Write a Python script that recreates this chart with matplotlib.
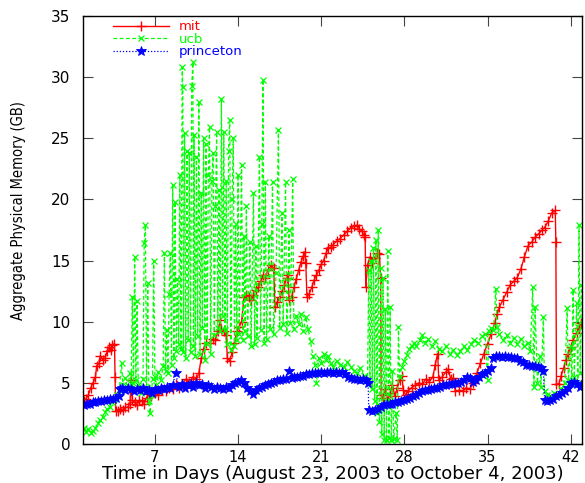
import matplotlib
matplotlib.use("Agg")
import matplotlib.pyplot as plt

# ---------------- data ----------------
mit_days = [1.0, 1.2, 1.4, 1.6, 1.8, 2.0, 2.1, 2.3, 2.4, 2.6, 2.8, 3.0, 3.1, 3.3, 3.4, 3.6, 3.65,
            3.7, 3.9, 4.1, 4.3, 4.5, 4.7, 4.9, 5.0, 5.1, 5.3, 5.5, 5.7, 5.9, 6.1, 6.3, 6.5, 6.7,
            7.0, 7.3, 7.6, 7.9, 8.2, 8.5, 8.8, 9.0, 9.3, 9.6, 9.9, 10.2, 10.5, 10.7, 10.9, 11.1,
            11.3, 11.6, 11.9, 12.1, 12.3, 12.5, 12.6, 12.8, 13.0, 13.1, 13.3, 13.5, 13.7, 13.9,
            14.1, 14.3, 14.5, 14.7, 14.9, 15.1, 15.3, 15.5, 15.7, 15.9, 16.1, 16.3, 16.5, 16.8,
            17.0, 17.1, 17.3, 17.5, 17.7, 17.9, 18.1, 18.2, 18.3, 18.5, 18.7, 18.9, 19.1, 19.3,
            19.5, 19.6, 19.7, 19.8, 20.0, 20.2, 20.4, 20.6, 20.8, 21.0, 21.2, 21.4, 21.6, 21.8,
            22.0, 22.3, 22.6, 22.9, 23.2, 23.5, 23.8, 24.0, 24.2, 24.4, 24.6, 24.7, 24.75, 24.9,
            25.1, 25.3, 25.5, 25.7, 25.9, 26.0, 26.05, 26.2, 26.4, 26.6, 26.8, 27.0, 27.2, 27.4,
            27.6, 27.8, 27.9, 28.1, 28.3, 28.6, 28.9, 29.2, 29.5, 29.8, 30.1, 30.4, 30.6, 30.8,
            30.9, 31.2, 31.5, 31.7, 31.9, 32.1, 32.3, 32.6, 32.9, 33.2, 33.5, 33.8, 34.1, 34.4,
            34.7, 35.0, 35.3, 35.6, 35.8, 36.0, 36.3, 36.6, 36.9, 37.2, 37.5, 37.8, 38.1, 38.4,
            38.7, 39.0, 39.3, 39.6, 39.8, 40.1, 40.4, 40.7, 40.75, 40.8, 41.0, 41.2, 41.4, 41.6,
            41.8, 42.0, 42.2, 42.5, 42.7, 42.9]
mit_gb = [3.5, 3.7, 4.0, 4.6, 5.0, 5.5, 6.4, 6.6, 7.2, 6.9, 7.0, 7.6, 7.9, 7.7, 8.1, 8.2, 5.5,
          2.7, 2.7, 2.9, 2.8, 3.0, 3.0, 3.3, 5.2, 3.6, 3.4, 3.2, 3.6, 3.5, 3.3, 3.8, 4.1, 3.9,
          4.2, 4.0, 4.4, 4.3, 4.6, 4.5, 4.9, 4.6, 4.9, 5.3, 5.0, 5.5, 5.3, 5.8, 7.0, 7.8,
          8.3, 8.3, 8.6, 8.5, 9.2, 10.1, 9.4, 9.2, 8.9, 7.0, 6.8, 7.5, 8.3, 9.2,
          9.6, 10.0, 12.0, 12.2, 12.0, 11.8, 12.2, 12.6, 12.8, 13.3, 13.8, 13.6, 14.2, 14.6,
          14.4, 11.2, 11.6, 12.0, 12.5, 13.0, 13.6, 13.8, 11.8, 12.0, 12.8, 13.5, 14.2, 14.9,
          15.4, 15.7, 14.8, 12.0, 12.3, 12.8, 13.4, 13.8, 14.2, 14.7, 15.0, 15.6, 16.0, 16.1,
          16.3, 16.6, 16.8, 17.1, 17.4, 17.7, 17.8, 17.9, 17.6, 17.4, 17.1, 16.9, 12.8, 14.6,
          15.3, 14.8, 15.2, 15.6, 15.5, 13.6, 4.0, 3.8, 4.5, 3.6, 4.2, 4.8, 3.9, 4.6,
          5.2, 5.6, 4.4, 4.0, 4.3, 4.6, 4.8, 5.0, 4.9, 5.3, 5.1, 5.5, 6.5, 7.4,
          5.2, 5.5, 5.9, 6.1, 5.3, 5.4, 4.3, 4.4, 4.3, 4.6, 4.5, 5.0, 5.8, 6.6,
          7.4, 8.2, 9.0, 9.9, 10.6, 11.2, 11.8, 12.4, 13.0, 13.3, 13.6, 14.3, 15.3, 16.2,
          16.5, 16.9, 17.2, 17.5, 17.7, 18.2, 18.9, 19.1, 16.5, 4.9, 4.9, 5.6, 6.2, 6.9,
          7.4, 7.9, 8.5, 9.1, 9.5, 9.9]

ucb_days = [1.0, 1.2, 1.4, 1.6, 1.8, 2.0, 2.2, 2.4, 2.6, 2.8, 3.0, 3.2, 3.4, 3.6, 3.8, 4.0,
            4.2, 4.3, 4.5, 4.7, 4.9, 5.0, 5.1, 5.2, 5.3, 5.4, 5.5, 5.6, 5.8, 6.0, 6.1, 6.2,
            6.3, 6.4, 6.5, 6.6, 6.7, 6.8, 6.9, 7.0, 7.1, 7.3, 7.5, 7.7, 7.8, 7.9, 8.0, 8.1,
            8.2, 8.3, 8.4, 8.5, 8.6, 8.7, 8.8, 8.9, 9.0, 9.1, 9.2, 9.3, 9.35, 9.4, 9.5, 9.6,
            9.7, 9.8, 9.9, 10.0, 10.1, 10.2, 10.25, 10.3, 10.4, 10.5, 10.6, 10.7, 10.8, 10.9,
            11.0, 11.1, 11.2, 11.3, 11.4, 11.5, 11.6, 11.7, 11.8, 11.9, 12.0, 12.1, 12.2, 12.3,
            12.4, 12.5, 12.6, 12.7, 12.8, 12.9, 13.0, 13.1, 13.2, 13.3, 13.4, 13.5, 13.6, 13.7,
            13.8, 13.9, 14.0, 14.1, 14.3, 14.4, 14.5, 14.6, 14.7, 14.8, 15.0, 15.1, 15.3, 15.4,
            15.5, 15.6, 15.8, 15.9, 16.0, 16.1, 16.2, 16.3, 16.4, 16.6, 16.7, 16.9, 17.0, 17.2,
            17.4, 17.5, 17.7, 17.8, 18.0, 18.1, 18.3, 18.4, 18.6, 18.7, 18.9, 19.1, 19.3, 19.5,
            19.7, 19.9, 20.1, 20.3, 20.5, 20.6, 20.8, 21.0, 21.2, 21.4, 21.6, 21.8, 22.0, 22.3,
            22.6, 22.9, 23.2, 23.5, 23.8, 24.0, 24.3, 24.6, 24.9, 25.0, 25.1, 25.2, 25.3, 25.4,
            25.5, 25.6, 25.7, 25.8, 25.9, 26.0, 26.1, 26.2, 26.3, 26.4, 26.5, 26.6, 26.7, 26.8,
            26.9, 27.0, 27.1, 27.3, 27.4, 27.5, 27.6, 27.8, 28.0, 28.2, 28.4, 28.6, 28.8, 29.0,
            29.3, 29.5, 29.7, 30.0, 30.3, 30.6, 30.9, 31.2, 31.5, 31.8, 32.1, 32.4, 32.7, 33.0,
            33.3, 33.6, 33.9, 34.2, 34.5, 34.8, 35.0, 35.1, 35.3, 35.5, 35.7, 35.8, 36.0, 36.3,
            36.6, 36.9, 37.2, 37.5, 37.8, 38.1, 38.4, 38.6, 38.8, 38.9, 39.0, 39.2, 39.4, 39.5,
            39.7, 39.8, 40.0, 40.3, 40.6, 40.9, 41.2, 41.5, 41.7, 41.8, 42.0, 42.1, 42.2, 42.3,
            42.5, 42.6, 42.7, 42.8, 42.9]
ucb_gb = [1.3, 1.0, 1.2, 0.9, 1.1, 1.3, 1.7, 2.0, 2.2, 2.6, 2.9, 3.0, 3.4, 3.7, 4.0, 4.4,
          6.6, 4.8, 5.4, 4.6, 5.8, 4.9, 12.0, 5.0, 15.3, 5.2, 11.7, 4.8, 4.2, 5.3, 16.4, 17.9,
          4.6, 13.2, 3.5, 2.5, 4.0, 5.3, 15.0, 5.5, 4.8, 5.9, 5.2, 6.4, 15.6, 6.0, 9.3, 5.8,
          12.3, 15.6, 6.5, 21.2, 7.0, 19.8, 7.6, 13.5, 8.2, 22.0, 7.8, 30.8, 29.2, 7.5, 25.4, 7.0,
          24.0, 8.5, 23.8, 7.5, 29.3, 31.2, 8.0, 25.3, 7.2, 23.5, 8.8, 28.0, 7.4, 20.5,
          9.5, 25.0, 6.9, 24.5, 8.2, 22.0, 25.9, 7.4, 21.5, 23.8, 8.9, 19.5, 25.5, 9.5,
          20.8, 9.2, 28.2, 10.5, 25.5, 9.3, 21.5, 8.2, 24.0, 26.5, 7.7, 20.0, 25.0, 8.0,
          18.0, 8.5, 22.0, 9.0, 22.8, 8.5, 17.0, 9.2, 19.5, 8.8, 16.5, 8.0, 20.5, 8.2,
          16.2, 8.7, 23.5, 9.3, 18.0, 29.8, 8.3, 21.4, 8.6, 17.0, 9.4, 21.4, 9.0, 14.0,
          25.7, 9.5, 18.9, 9.8, 21.4, 9.1, 17.5, 9.9, 21.7, 9.4, 10.5, 9.8, 10.6, 9.2,
          10.4, 9.4, 8.4, 7.2, 6.5, 5.0, 7.0, 6.6, 7.4, 6.9, 7.2, 6.6, 6.3, 6.8,
          6.5, 6.3, 6.7, 6.3, 6.0, 5.8, 6.2, 5.6, 5.3, 14.2, 5.0, 15.0, 4.5, 16.0,
          3.5, 16.7, 2.5, 17.5, 1.8, 14.4, 0.8, 13.6, 0.3, 11.0, 0.3, 15.8, 0.5, 11.2,
          0.3, 6.0, 0.4, 2.5, 0.3, 9.6, 5.5, 6.3, 6.8, 7.3, 7.8, 8.0, 8.3, 8.0,
          8.5, 8.9, 8.3, 8.6, 8.0, 8.4, 7.8, 7.6, 8.0, 7.4, 7.7, 7.3, 7.6, 8.0,
          7.7, 8.2, 8.5, 8.3, 8.8, 9.0, 5.2, 9.2, 9.5, 9.3, 12.7, 9.6, 9.0, 8.5,
          8.9, 8.3, 8.7, 8.2, 8.6, 8.0, 8.3, 7.6, 12.8, 4.7, 11.2, 5.0, 7.2, 4.7,
          10.4, 4.3, 4.0, 3.9, 4.2, 4.0, 4.5, 5.0, 11.1, 5.2, 8.0, 5.0, 12.6, 5.5,
          11.5, 5.0, 17.9, 5.8, 13.0]

princeton_days = [1.0, 1.25, 1.5, 1.75, 2.0, 2.25, 2.5, 2.75, 3.0, 3.25, 3.5, 3.75, 4.0,
                  4.1, 4.25, 4.5, 4.75, 5.0, 5.25, 5.5, 5.75, 6.0, 6.25, 6.5, 6.75, 7.0, 7.25,
                  7.5, 7.75, 8.0, 8.25, 8.5, 8.75, 9.0, 9.25, 9.5, 9.75, 10.0, 10.25, 10.5,
                  10.75, 11.0, 11.25, 11.5, 11.75, 12.0, 12.25, 12.5, 12.75, 13.0, 13.25, 13.5,
                  13.75, 14.0, 14.25, 14.5, 14.75, 15.0, 15.25, 15.5, 15.75, 16.0, 16.25, 16.5,
                  16.75, 17.0, 17.25, 17.5, 17.75, 18.0, 18.25, 18.5, 18.75, 19.0, 19.25, 19.5,
                  19.75, 20.0, 20.25, 20.5, 20.75, 21.0, 21.25, 21.5, 21.75, 22.0, 22.25, 22.5,
                  22.75, 23.0, 23.25, 23.5, 23.75, 24.0, 24.25, 24.5, 24.75, 24.95, 25.0, 25.25,
                  25.5, 25.75, 26.0, 26.25, 26.5, 26.75, 27.0, 27.25, 27.5, 27.75, 28.0, 28.25,
                  28.5, 28.75, 29.0, 29.25, 29.5, 29.75, 30.0, 30.25, 30.5, 30.75, 31.0, 31.25,
                  31.5, 31.75, 32.0, 32.25, 32.5, 32.75, 33.0, 33.25, 33.5, 33.75, 34.0, 34.25,
                  34.5, 34.75, 35.0, 35.25, 35.5, 35.75, 36.0, 36.25, 36.5, 36.75, 37.0, 37.25,
                  37.5, 37.75, 38.0, 38.25, 38.5, 38.75, 39.0, 39.25, 39.5, 39.7, 39.8, 40.0,
                  40.25, 40.5, 40.75, 41.0, 41.25, 41.5, 41.75, 42.0, 42.25, 42.5, 42.75, 42.9]
princeton_gb = [3.2, 3.3, 3.3, 3.4, 3.4, 3.5, 3.5, 3.6, 3.6, 3.7, 3.7, 3.8, 3.9,
                4.5, 4.6, 4.4, 4.6, 4.5, 4.3, 4.5, 4.4, 4.6, 4.3, 4.4, 4.2, 4.5, 4.4,
                4.6, 4.5, 4.7, 4.6, 4.8, 5.8, 4.7, 4.9, 4.6, 4.8, 4.9, 4.7, 5.0,
                4.8, 4.9, 4.6, 4.8, 4.7, 4.5, 4.7, 4.6, 4.5, 4.7, 4.6, 4.8,
                5.0, 5.1, 5.2, 5.0, 4.6, 4.3, 4.1, 4.4, 4.6, 4.7, 4.8, 4.9,
                5.0, 5.1, 5.2, 5.2, 5.3, 5.3, 6.0, 5.4, 5.5, 5.5, 5.6, 5.6,
                5.7, 5.7, 5.8, 5.8, 5.8, 5.9, 5.8, 5.9, 5.9, 5.8, 5.9, 5.8,
                5.9, 5.7, 5.5, 5.4, 5.3, 5.3, 5.2, 5.3, 5.2, 5.0, 2.8, 2.7,
                2.8, 2.9, 3.0, 3.2, 3.3, 3.3, 3.3, 3.4, 3.4, 3.5, 3.6, 3.7,
                3.8, 3.9, 4.0, 4.2, 4.3, 4.4, 4.4, 4.5, 4.6, 4.6, 4.7, 4.8,
                4.8, 4.9, 4.9, 5.0, 5.0, 5.1, 5.2, 5.5, 5.4, 5.1, 5.2, 5.5,
                5.7, 5.8, 6.0, 6.2, 7.0, 7.2, 7.2, 7.1, 7.2, 7.1, 7.1, 7.0,
                7.0, 6.8, 6.7, 6.5, 6.5, 6.4, 6.4, 6.3, 6.2, 6.0, 3.6, 3.5,
                3.6, 3.7, 3.9, 4.0, 4.2, 4.3, 4.6, 5.0, 5.1, 4.9, 4.7, 4.8]

x_ticks = [7, 14, 21, 28, 35, 42]
y_ticks = [0, 5, 10, 15, 20, 25, 30, 35]
series_names = ["mit", "ucb", "princeton"]

# ---------------- figure ----------------
plt.rcParams['font.family'] = ['DejaVu Sans']
fig = plt.figure(figsize=(5.85, 4.83), dpi=100)
ax = fig.add_axes([83 / 585, 1 - 444 / 483, (582 - 83) / 585, (444 - 16) / 483])

ax.plot(mit_days, mit_gb, color='#ff0000', lw=1.0, ls='-', marker='+', ms=7, mew=1.0,
        label=series_names[0])
ax.plot(ucb_days, ucb_gb, color='#00ff00', lw=0.9, ls=(0, (3, 2)), marker='x', ms=5, mew=0.9,
        label=series_names[1])
ax.plot(princeton_days, princeton_gb, color='#0000ff', lw=0.9, ls=(0, (1, 1.5)), marker='*',
        ms=7, mew=0.6, label=series_names[2])

ax.set_xlim(0.95, 42.95)
ax.set_ylim(0, 35)
ax.set_xticks(x_ticks)
ax.set_yticks(y_ticks)
ax.tick_params(direction='in', length=7, width=0.8, top=True, right=True,
               labelsize=11, color='#444444')
ax.tick_params(axis='y', pad=9)
ax.tick_params(axis='x', pad=4, labelsize=10.5)
for s in ax.spines.values():
    s.set_linewidth(1.0)

ax.set_xlabel("Time in Days (August 23, 2003 to October 4, 2003)", fontsize=13, labelpad=0)
ax.set_ylabel("Aggregate Physical Memory (GB)", fontsize=10.5,
              family=['DejaVu Sans'], fontstretch='condensed')
ax.yaxis.set_label_coords(-0.115, 0.545)

leg = ax.legend(loc='upper left', bbox_to_anchor=(0.045, 1.008), frameon=False, numpoints=1,
                handlelength=4.2, handletextpad=0.75, labelspacing=-0.05, fontsize=9.5,
                labelcolor='linecolor', borderaxespad=0.2)

fig.savefig("out.png", dpi=100)
